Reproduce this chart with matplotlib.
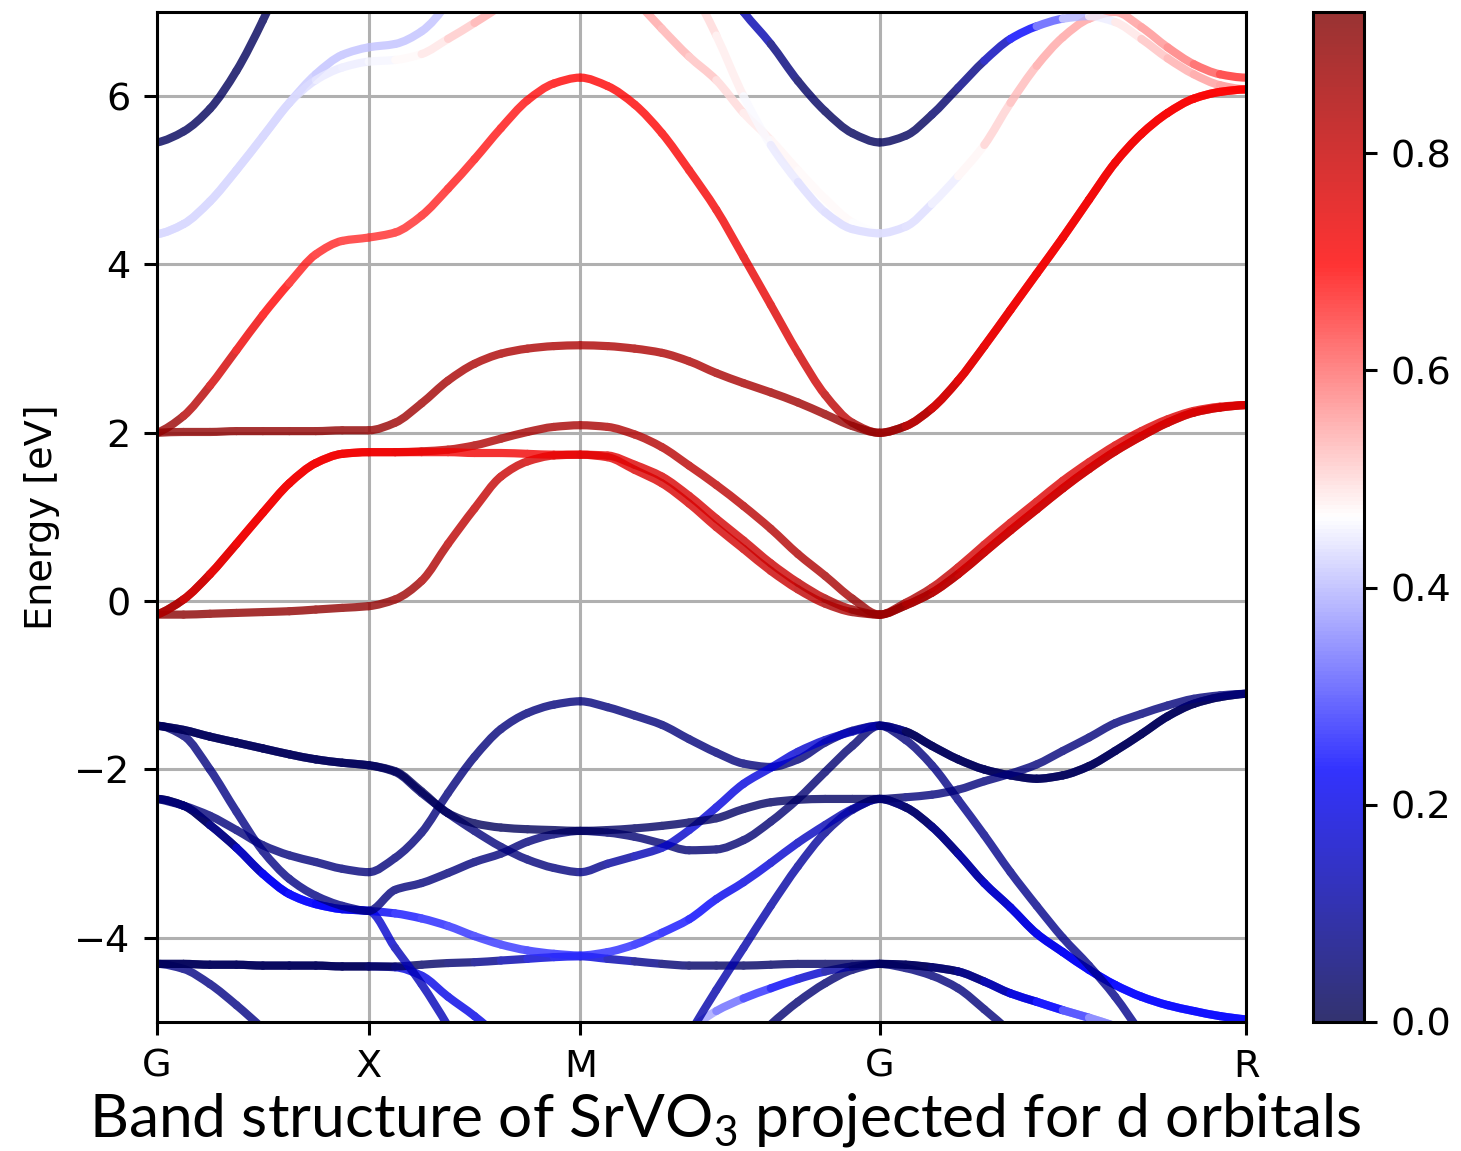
"""Orbital-projected band structure of SrVO3 (d-orbital weight as colour)."""

import numpy as np
import matplotlib
matplotlib.use("Agg")
import matplotlib.pyplot as plt
from matplotlib.cm import ScalarMappable
from matplotlib.collections import PatchCollection
from matplotlib.colors import ListedColormap, Normalize
from matplotlib.patches import PathPatch
from matplotlib.path import Path

nan = np.nan

# ---------------------------------------------------------------------------
# Path and axes
# ---------------------------------------------------------------------------

KPATH_LABELS = ["G", "X", "M", "G", "R"]
KPATH_LEGS   = [0.5, 0.5, np.sqrt(0.5), np.sqrt(0.75)]   # cubic, units of 2pi/a
LEG_POINTS   = [8, 8, 11, 14]                            # samples per leg
E_RANGE      = (-5, 7)
E_TICKS      = [-4, -2, 0, 2, 4, 6]
W_MAX        = 0.93
CBAR_TICKS   = [0.0, 0.2, 0.4, 0.6, 0.8]
TITLE        = r"Band structure of SrVO$_\mathregular{3}$ projected for d orbitals"
LINE_ALPHA   = 0.8

# ---------------------------------------------------------------------------
# Bands: energies (eV) and d weight on the k grid, legs G-X | X-M | M-G | G-R
# (nan = band outside the window / not traced)
# ---------------------------------------------------------------------------

# V t2g manifold
t2g_a_E = [-0.16, 0.02, 0.32, 0.68, 1.05, 1.40, 1.64, 1.75, 1.77,
           1.77, 1.77, 1.77, 1.76, 1.76, 1.75, 1.74, 1.74,
           1.73, 1.62, 1.48, 1.25, 0.98, 0.72, 0.45, 0.22, 0.03, -0.10, -0.16,
           -0.02, 0.16, 0.40, 0.67, 0.93, 1.18, 1.43, 1.65, 1.85, 2.02, 2.16, 2.26, 2.31, 2.33]
t2g_a_W = [0.88, 0.82, 0.76, 0.73, 0.72, 0.72, 0.72, 0.72, 0.72,
           0.72, 0.72, 0.72, 0.72, 0.72, 0.72, 0.73, 0.74,
           0.75, 0.76, 0.77, 0.77, 0.77, 0.78, 0.79, 0.80, 0.83, 0.87, 0.90,
           0.86, 0.82, 0.79, 0.77, 0.76, 0.76, 0.76, 0.76, 0.76, 0.76, 0.76, 0.76, 0.76, 0.76]

t2g_b_E = t2g_a_E[:9] + [
           1.77, 1.78, 1.80, 1.85, 1.93, 2.01, 2.07, 2.09,
           2.07, 1.98, 1.83, 1.61, 1.38, 1.13, 0.86, 0.56, 0.30, 0.03, -0.16,
           -0.05, 0.10, 0.32, 0.58, 0.84, 1.09, 1.34, 1.57, 1.78, 1.96, 2.12, 2.24, 2.30, 2.33]
t2g_b_W = t2g_a_W[:9] + [
           0.76, 0.80, 0.82, 0.84, 0.85, 0.86, 0.86, 0.86,
           0.85, 0.84, 0.83, 0.82, 0.82, 0.82, 0.83, 0.84, 0.85, 0.87, 0.90,
           0.88, 0.84, 0.81, 0.80, 0.79, 0.79, 0.79, 0.79, 0.79, 0.79, 0.79, 0.79, 0.79, 0.79]

t2g_c_E = [-0.16, -0.16, -0.15, -0.14, -0.13, -0.12, -0.10, -0.08, -0.06,
           0.02, 0.24, 0.68, 1.10, 1.48, 1.66, 1.73, 1.74,
           1.71, 1.56, 1.40, 1.16, 0.88, 0.62, 0.36, 0.14, -0.03, -0.13, -0.16] + t2g_b_E[28:]
t2g_c_W = [0.92, 0.91, 0.91, 0.90, 0.90, 0.90, 0.90, 0.90, 0.90,
           0.89, 0.86, 0.83, 0.81, 0.80, 0.79, 0.77, 0.75,
           0.75, 0.76, 0.77, 0.77, 0.77, 0.78, 0.79, 0.80, 0.83, 0.87, 0.90] + t2g_b_W[28:]

# V eg manifold
eg_a_E = [2.00, 2.01, 2.01, 2.02, 2.02, 2.02, 2.02, 2.03, 2.03,
          2.12, 2.35, 2.62, 2.82, 2.94, 3.00, 3.03, 3.04,
          3.03, 3.00, 2.95, 2.85, 2.71, 2.59, 2.48, 2.36, 2.22, 2.08, 2.00,
          2.08, 2.29, 2.62, 3.03, 3.46, 3.89, 4.32, 4.77, 5.21, 5.55, 5.80, 5.97, 6.05, 6.08]
eg_a_W = [0.90, 0.90, 0.90, 0.90, 0.90, 0.90, 0.90, 0.90, 0.90,
          0.88, 0.87, 0.86, 0.85, 0.85, 0.85, 0.85, 0.85,
          0.85, 0.85, 0.85, 0.85, 0.85, 0.86, 0.86, 0.87, 0.88, 0.89, 0.90,
          0.86, 0.80, 0.76, 0.74, 0.73, 0.72, 0.72, 0.72, 0.72, 0.72, 0.71, 0.71, 0.70, 0.70]

eg_b_E = [2.00, 2.20, 2.56, 2.98, 3.40, 3.78, 4.12, 4.28, 4.32,
          4.38, 4.58, 4.90, 5.25, 5.62, 5.95, 6.15, 6.22,
          6.12, 5.90, 5.56, 5.12, 4.65, 4.09, 3.52, 2.95, 2.45, 2.12, 2.00] + eg_a_E[28:]
eg_b_W = [0.90, 0.86, 0.80, 0.75, 0.71, 0.68, 0.67, 0.66, 0.66,
          0.66, 0.66, 0.67, 0.68, 0.68, 0.69, 0.69, 0.70,
          0.70, 0.70, 0.70, 0.71, 0.72, 0.73, 0.75, 0.77, 0.80, 0.84, 0.88] + eg_a_W[28:]

# upper (Sr d / V s) bands
up_a_E = [5.45, 5.58, 5.85, 6.30, 6.90, 7.60, nan, nan, nan,
          nan, nan, nan, nan, nan, nan, nan, nan,
          nan, nan, nan, nan, 7.45, 7.00, 6.62, 6.18, 5.82, 5.56, 5.45,
          5.53, 5.78, 6.10, 6.42, 6.68, 6.83, 6.92, 6.95, 6.88, 6.68, 6.45, 6.26, 6.13, 6.08]
up_a_W = [0.02, 0.02, 0.02, 0.02, 0.02, 0.02, nan, nan, nan,
          nan, nan, nan, nan, nan, nan, nan, nan,
          nan, nan, nan, nan, 0.22, 0.18, 0.08, 0.04, 0.02, 0.02, 0.02,
          0.02, 0.03, 0.05, 0.10, 0.19, 0.27, 0.36, 0.43, 0.47, 0.51, 0.53, 0.55, 0.56, 0.57]

up_b_E = [4.36, 4.48, 4.75, 5.12, 5.52, 5.92, 6.19, 6.34, 6.41,
          6.43, 6.50, 6.68, 6.87, 7.08, 7.40, nan, nan,
          nan, nan, nan, 7.35, 6.72, 6.00, 5.42, 4.98, 4.62, 4.42, 4.37,
          4.45, 4.72, 5.05, 5.42, 5.92, 6.36, 6.70, 6.92, 7.00, 6.82, 6.58, 6.38, 6.26, 6.22]
up_b_W = [0.43, 0.43, 0.43, 0.43, 0.43, 0.43, 0.44, 0.45, 0.45,
          0.46, 0.48, 0.50, 0.53, 0.55, 0.56, nan, nan,
          nan, nan, nan, 0.51, 0.49, 0.47, 0.45, 0.44, 0.43, 0.43, 0.43,
          0.43, 0.44, 0.46, 0.49, 0.52, 0.54, 0.55, 0.55, 0.55, 0.56, 0.57, 0.60, 0.64, 0.68]

up_c_E = [4.36, 4.48, 4.75, 5.12, 5.52, 5.92, 6.26, 6.49, 6.58,
          6.62, 6.77, 7.12, nan, nan, nan, nan, nan,
          7.50, 7.15, 6.80, 6.47, 6.19, 5.80, 5.48, 5.12, 4.78, 4.50, 4.37,
          nan, nan, nan, nan, nan, nan, nan, nan, nan, nan, nan, nan, nan, nan]
up_c_W = [0.43, 0.43, 0.43, 0.43, 0.43, 0.42, 0.41, 0.41, 0.41,
          0.41, 0.41, 0.41, nan, nan, nan, nan, nan,
          0.55, 0.55, 0.54, 0.53, 0.51, 0.49, 0.48, 0.47, 0.47, 0.47, 0.46,
          nan, nan, nan, nan, nan, nan, nan, nan, nan, nan, nan, nan, nan, nan]

# O 2p manifold
lo_a_E = [-1.48, -1.53, -1.61, -1.68, -1.75, -1.82, -1.88, -1.92, -1.95,
          -2.02, -2.26, -2.52, -2.64, -2.69, -2.71, -2.72, -2.73,
          -2.72, -2.70, -2.67, -2.63, -2.58, -2.47, -2.39, -2.36, -2.35, -2.35, -2.35,
          -2.33, -2.30, -2.24, -2.14, -2.05, -1.94, -1.78, -1.62, -1.45, -1.34, -1.24, -1.16, -1.12, -1.10]
lo_a_W = [0.02, 0.02, 0.02, 0.02, 0.02, 0.02, 0.02, 0.02, 0.02,
          0.02, 0.02, 0.02, 0.02, 0.02, 0.02, 0.02, 0.02,
          0.03, 0.03, 0.03, 0.03, 0.03, 0.03, 0.03, 0.03, 0.03, 0.03, 0.03,
          0.06, 0.06, 0.06, 0.06, 0.06, 0.06, 0.06, 0.06, 0.06, 0.06, 0.06, 0.06, 0.06, 0.06]

lo_b_E = lo_a_E[:9] + [
          -2.03, -2.28, -2.52, -2.73, -2.92, -3.07, -3.17, -3.22,
          -3.12, -3.03, -2.93, -2.72, -2.45, -2.17, -1.98, -1.79, -1.65, -1.55, -1.48,
          -1.55, -1.72, -1.88, -2.00, -2.07, -2.11, -2.07, -1.96, -1.78, -1.58, -1.37, -1.22, -1.14, -1.10]
lo_b_W = lo_a_W[:9] + [
          0.03, 0.04, 0.05, 0.06, 0.06, 0.06, 0.06, 0.07,
          0.09, 0.12, 0.15, 0.17, 0.19, 0.19, 0.19, 0.18, 0.16, 0.14, 0.12,
          0.02, 0.02, 0.02, 0.02, 0.02, 0.02, 0.02, 0.02, 0.02, 0.02, 0.02, 0.02, 0.02, 0.02]

lo_c_E = [-1.48, -1.60, -2.00, -2.50, -2.97, -3.30, -3.50, -3.62, -3.68,
          -3.43, -3.35, -3.23, -3.10, -3.00, -2.86, -2.77, -2.73,
          -2.75, -2.80, -2.88, -2.96, -2.95, -2.84, -2.62, -2.35, -2.03, -1.72, -1.48,
          -1.65, -1.95, -2.36, -2.78, -3.22, -3.62, -4.00, -4.33, -4.70, -5.15, nan, nan, nan, nan]
lo_c_W = [0.04, 0.06, 0.07, 0.07, 0.07, 0.07, 0.07, 0.07, 0.07,
          0.06, 0.06, 0.06, 0.06, 0.06, 0.06, 0.06, 0.06,
          0.05, 0.05, 0.05, 0.05, 0.05, 0.05, 0.05, 0.05, 0.05, 0.05, 0.05,
          0.06, 0.07, 0.08, 0.08, 0.08, 0.08, 0.08, 0.08, 0.08, 0.08, nan, nan, nan, nan]

lo_d_E = [-2.35, -2.43, -2.55, -2.72, -2.90, -3.02, -3.10, -3.18, -3.22,
          -3.05, -2.75, -2.28, -1.85, -1.52, -1.33, -1.23, -1.19,
          -1.26, -1.36, -1.47, -1.64, -1.80, -1.93, -1.97, -1.88, -1.68, -1.54, -1.48] + lo_b_E[28:]
lo_d_W = [0.06, 0.06, 0.06, 0.06, 0.06, 0.06, 0.06, 0.06, 0.06,
          0.06, 0.06, 0.06, 0.06, 0.06, 0.06, 0.06, 0.06,
          0.06, 0.06, 0.06, 0.06, 0.06, 0.06, 0.06, 0.06, 0.06, 0.06, 0.06] + lo_b_W[28:]

lo_e_E = [-2.35, -2.43, -2.66, -2.93, -3.24, -3.48, -3.60, -3.66, -3.68,
          -3.71, -3.77, -3.86, -3.98, -4.08, -4.15, -4.19, -4.21,
          -4.17, -4.08, -3.94, -3.78, -3.54, -3.34, -3.11, -2.87, -2.66, -2.47, -2.35,
          -2.45, -2.68, -3.00, -3.35, -3.64, -3.95, -4.17, -4.38, -4.56, -4.70, -4.80, -4.87, -4.93, -4.97]
lo_e_W = [0.02, 0.02, 0.04, 0.10, 0.20, 0.24, 0.24, 0.22, 0.20,
          0.24, 0.26, 0.27, 0.28, 0.28, 0.28, 0.27, 0.27,
          0.27, 0.27, 0.26, 0.24, 0.22, 0.20, 0.18, 0.16, 0.14, 0.12, 0.08,
          0.03, 0.05, 0.09, 0.14, 0.18, 0.20, 0.22, 0.23, 0.24, 0.24, 0.24, 0.24, 0.24, 0.24]

lo_f_E = [-4.31, -4.31, -4.32, -4.32, -4.33, -4.33, -4.33, -4.34, -4.34,
          -4.34, -4.32, -4.30, -4.29, -4.27, -4.25, -4.23, -4.22,
          -4.25, -4.28, -4.31, -4.33, -4.33, -4.33, -4.32, -4.31, -4.31, -4.31, -4.31,
          -4.32, -4.35, -4.40, -4.52, -4.66, -4.76, -4.86, -4.95, -5.05, nan, nan, nan, nan, nan]
lo_f_W = [0.02, 0.02, 0.02, 0.02, 0.02, 0.02, 0.02, 0.02, 0.02,
          0.02, 0.03, 0.04, 0.06, 0.10, 0.15, 0.20, 0.22,
          0.15, 0.10, 0.06, 0.04, 0.03, 0.03, 0.03, 0.03, 0.03, 0.03, 0.03,
          0.02, 0.03, 0.05, 0.10, 0.16, 0.22, 0.28, 0.34, 0.38, nan, nan, nan, nan, nan]

lo_g_E = [-4.31, -4.37, -4.55, -4.80, -5.08, nan, nan, nan, nan,
          nan, nan, nan, nan, nan, nan, nan, nan,
          nan, nan, nan, nan, nan, nan, -5.03, -4.76, -4.54, -4.38, -4.31,
          -4.36, -4.45, -4.60, -4.85, -5.12, nan, nan, nan, nan, nan, nan, nan, nan, nan]
lo_g_W = [0.07, 0.07, 0.07, 0.07, 0.07, nan, nan, nan, nan,
          nan, nan, nan, nan, nan, nan, nan, nan,
          nan, nan, nan, nan, nan, nan, 0.05, 0.05, 0.05, 0.05, 0.05,
          0.06, 0.06, 0.06, 0.06, 0.06, nan, nan, nan, nan, nan, nan, nan, nan, nan]

lo_h_E = lo_e_E[:9] + [
          -4.12, -4.55, -5.05, nan, nan, nan, nan, nan,
          nan, nan, nan, -5.15, -4.62, -4.12, -3.62, -3.15, -2.75, -2.48, -2.35] + lo_e_E[28:]
lo_h_W = lo_e_W[:9] + [
          0.14, 0.14, 0.14, nan, nan, nan, nan, nan,
          nan, nan, nan, 0.12, 0.12, 0.12, 0.12, 0.11, 0.10, 0.08, 0.06] + lo_e_W[28:]

lo_i_E = lo_f_E[:9] + [
          -4.35, -4.45, -4.70, -4.93, -5.20, nan, nan, nan,
          nan, nan, nan, -5.10, -4.87, -4.72, -4.60, -4.49, -4.40, -4.34, -4.31] + lo_f_E[28:]
lo_i_W = lo_f_W[:9] + [
          0.18, 0.20, 0.20, 0.20, 0.20, nan, nan, nan,
          nan, nan, nan, 0.40, 0.36, 0.30, 0.25, 0.20, 0.14, 0.08, 0.04] + lo_f_W[28:]

# drawing order: faint bands first, t2g/eg on top
BANDS = [
    (up_c_E, up_c_W), (up_b_E, up_b_W), (up_a_E, up_a_W),
    (lo_g_E, lo_g_W), (lo_i_E, lo_i_W), (lo_f_E, lo_f_W),
    (lo_h_E, lo_h_W), (lo_e_E, lo_e_W), (lo_d_E, lo_d_W),
    (lo_c_E, lo_c_W), (lo_b_E, lo_b_W), (lo_a_E, lo_a_W),
    (eg_b_E, eg_b_W), (eg_a_E, eg_a_W),
    (t2g_c_E, t2g_c_W), (t2g_b_E, t2g_b_W), (t2g_a_E, t2g_a_W),
]

# ---------------------------------------------------------------------------
# Style
# ---------------------------------------------------------------------------

S = 2.75   # scale on matplotlib's default sizes

plt.rcParams.update({
    "font.family": ["DejaVu Sans"],
    "font.size": 10 * S,
    "axes.linewidth": 0.8 * S,
    "xtick.major.width": 0.8 * S,
    "ytick.major.width": 0.8 * S,
    "xtick.major.size": 3.5 * S,
    "ytick.major.size": 3.5 * S,
    "xtick.major.pad": 3.5 * S,
    "ytick.major.pad": 3.5 * S,
})

SEISMIC = plt.get_cmap("seismic")
_rgba = SEISMIC(np.linspace(0, 1, 256))
_rgba[:, 3] = LINE_ALPHA
CMAP = ListedColormap(_rgba, name="seismic_a")   # for the colorbar
NORM = Normalize(vmin=0.0, vmax=W_MAX)


def kgrid():
    nodes = np.concatenate([[0.0], np.cumsum(KPATH_LEGS)])
    k = [nodes[:1]]
    for a, b, n in zip(nodes[:-1], nodes[1:], LEG_POINTS):
        k.append(np.linspace(a, b, n + 1)[1:])
    return np.concatenate(k), nodes


def _end_slope(h0, h1, d0, d1):
    m = ((2 * h0 + h1) * d0 - h0 * d1) / (h0 + h1)
    if np.sign(m) != np.sign(d0):
        return 0.0
    if np.sign(d0) != np.sign(d1) and abs(m) > 3 * abs(d0):
        return 3 * d0
    return m


def pchip_slopes(x, y):
    """Shape-preserving (monotone) tangents at the sample points."""
    h = np.diff(x)
    d = np.diff(y) / h
    m = np.zeros(len(x))
    if len(x) == 2:
        m[:] = d[0]
        return m
    for i in range(1, len(x) - 1):
        if d[i - 1] * d[i] > 0:
            w1, w2 = 2 * h[i] + h[i - 1], h[i] + 2 * h[i - 1]
            m[i] = (w1 + w2) / (w1 / d[i - 1] + w2 / d[i])
    m[0] = _end_slope(h[0], h[1], d[0], d[1])
    m[-1] = _end_slope(h[-1], h[-2], d[-1], d[-2])
    return m


def band_patches(k, energy, weight):
    """One cubic Bezier per k interval, so every piece can carry its own colour."""
    e = np.asarray(energy, float)
    w = np.asarray(weight, float)
    ok = ~np.isnan(e)
    patches, ws = [], []
    i = 0
    while i < len(e):
        if not ok[i]:
            i += 1
            continue
        j = i
        while j + 1 < len(e) and ok[j + 1]:
            j += 1
        if j > i:
            x, y = k[i:j + 1], e[i:j + 1]
            m = pchip_slopes(x, y)
            for a in range(j - i):
                h = x[a + 1] - x[a]
                verts = [(x[a], y[a]),
                         (x[a] + h / 3, y[a] + m[a] * h / 3),
                         (x[a + 1] - h / 3, y[a + 1] - m[a + 1] * h / 3),
                         (x[a + 1], y[a + 1])]
                codes = [Path.MOVETO, Path.CURVE4, Path.CURVE4, Path.CURVE4]
                patches.append(PathPatch(Path(verts, codes)))
                ws.append(np.nanmean(w[i + a:i + a + 2]))
        i = j + 1
    return patches, np.array(ws)


def fade(img, dpi):
    # one transparency for the whole band, so piece joints don't darken
    img[..., 3] *= LINE_ALPHA
    return img, 0, 0


def main() -> None:
    k, nodes = kgrid()

    fig = plt.figure(figsize=(14.61, 11.51), dpi=100)
    ax  = fig.add_axes([0.1075, 0.1121, 0.7454, 0.8775])
    cax = fig.add_axes([0.8987, 0.1121, 0.0349, 0.8775])

    for energy, weight in BANDS:
        patches, ws = band_patches(k, energy, weight)
        pc = PatchCollection(patches, facecolors="none", edgecolors=SEISMIC(NORM(ws)),
                             linewidths=5.9, capstyle="round", zorder=2,
                             transform=ax.transData)
        pc.set_agg_filter(fade)
        ax.add_collection(pc, autolim=False)

    ax.set_xlim(nodes[0], nodes[-1])
    ax.set_ylim(*E_RANGE)
    ax.set_xticks(nodes, KPATH_LABELS)
    ax.set_yticks(E_TICKS)
    ax.set_ylabel("Energy [eV]", labelpad=10)
    ax.grid(True, color="#b0b0b0", linewidth=0.8 * S)
    ax.set_axisbelow(True)

    cb = fig.colorbar(ScalarMappable(norm=NORM, cmap=CMAP), cax=cax, ticks=CBAR_TICKS)
    cb.ax.set_yticklabels([f"{t:.1f}" for t in CBAR_TICKS])
    cb.outline.set_linewidth(0.8 * S)

    fig.text(0.496, 0.0122, TITLE, ha="center", va="baseline", fontsize=43.5,
             family=["Lato", "DejaVu Sans"])

    fig.savefig("out.png", dpi=100)
    plt.close(fig)


if __name__ == "__main__":
    main()
